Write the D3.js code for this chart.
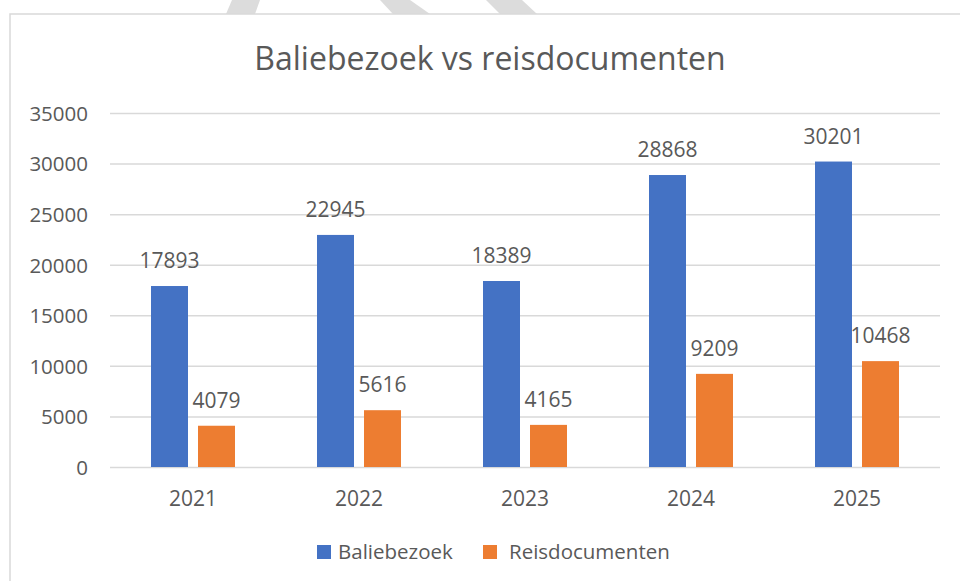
<!DOCTYPE html>
<html>
<head>
<meta charset="utf-8">
<script src="https://cdn.jsdelivr.net/npm/d3@7"></script>
<style>
  html, body { margin: 0; padding: 0; background: #fff; }
  svg { display: block; }
  text { font-family: "Open Sans", "Liberation Sans", sans-serif; fill: #595959; }
</style>
</head>
<body>
<svg id="chart" width="960" height="581"></svg>
<script>
const years = ["2021", "2022", "2023", "2024", "2025"];
const seriesNames = ["Baliebezoek", "Reisdocumenten"];
const baliebezoek = [17893, 22945, 18389, 28868, 30201];
const reisdocumenten = [4079, 5616, 4165, 9209, 10468];
const yTicks = [0, 5000, 10000, 15000, 20000, 25000, 30000, 35000];
const colors = ["#4472C4", "#ED7D31"];
const title = "Baliebezoek vs reisdocumenten";

const seriesValues = [baliebezoek, reisdocumenten];
const svg = d3.select("#chart");

// background watermark stripes (above the chart frame)
const stripes = [
  [[232, 0], [260, 0], [255, 14], [226, 14]],
  [[380, 0], [410, 0], [430, 14], [393, 14]],
  [[486, 0], [522, 0], [537, 14], [500, 14]]
];
svg.selectAll("polygon.wm").data(stripes).join("polygon")
  .attr("class", "wm")
  .attr("points", d => d.map(p => p.join(",")).join(" "))
  .attr("fill", "#dcdcdc");

// chart frame
svg.append("rect")
  .attr("x", 10).attr("y", 14)
  .attr("width", 980).attr("height", 600)
  .attr("fill", "#fff")
  .attr("stroke", "#d9d9d9").attr("stroke-width", 1.5);

// title
svg.append("text")
  .attr("x", 490).attr("y", 70)
  .attr("text-anchor", "middle")
  .style("font-size", "32px")
  .text(title);

const x0 = d3.scaleBand().domain(years).range([110, 940]).padding(0);
const x1 = d3.scaleBand().domain(seriesNames)
  .range([x0.bandwidth() / 2 - 42, x0.bandwidth() / 2 + 42])
  .paddingInner(0.2128).paddingOuter(0);
const y = d3.scaleLinear().domain([0, 35000]).range([467, 113]);

// gridlines
const yAxis = d3.axisLeft(y).tickValues(yTicks).tickSize(-(940 - 110)).tickFormat(d3.format("d"));
const gy = svg.append("g").attr("transform", "translate(110,0)").call(yAxis);
gy.select(".domain").remove();
gy.selectAll(".tick line").attr("stroke", "#d9d9d9").attr("stroke-width", 1.5);
gy.selectAll(".tick text")
  .attr("x", -22).attr("dy", "0.36em")
  .style("font-size", "20.5px").attr("fill", "#595959")
  .style("font-family", "'Open Sans', sans-serif");

// x axis labels
const xAxis = d3.axisBottom(x0).tickSize(0);
const gx = svg.append("g").attr("transform", "translate(0,467)").call(xAxis);
gx.select(".domain").remove();
gx.selectAll(".tick text")
  .attr("y", 0).attr("dy", "39px")
  .style("font-size", "21px").attr("fill", "#595959")
  .style("font-family", "'Open Sans', sans-serif");

// bars
const groups = svg.append("g").selectAll("g").data(years).join("g")
  .attr("transform", d => `translate(${x0(d)},0)`);

groups.selectAll("rect").data((d, i) => seriesNames.map((s, j) => ({ s, v: seriesValues[j][i], j })))
  .join("rect")
  .attr("x", d => x1(d.s))
  .attr("width", x1.bandwidth())
  .attr("y", d => y(d.v))
  .attr("height", d => y(0) - y(d.v))
  .attr("fill", d => colors[d.j]);

groups.selectAll("text.lbl").data((d, i) => seriesNames.map((s, j) => ({ s, v: seriesValues[j][i], j })))
  .join("text")
  .attr("class", "lbl")
  .attr("x", d => x1(d.s) + x1.bandwidth() / 2)
  .attr("y", d => y(d.v) - 18)
  .attr("text-anchor", "middle")
  .style("font-size", "21px")
  .text(d => d.v);

// legend
const legendItems = [
  { name: seriesNames[0], color: colors[0], x: 317 },
  { name: seriesNames[1], color: colors[1], x: 483 }
];
const lg = svg.append("g").selectAll("g").data(legendItems).join("g")
  .attr("transform", d => `translate(${d.x},545)`);
lg.append("rect").attr("width", 14).attr("height", 14).attr("fill", d => d.color);
lg.append("text").attr("x", d => d.name === seriesNames[0] ? 21 : 26).attr("y", 7).attr("dy", "0.36em")
  .style("font-size", "20.5px").text(d => d.name);
</script>
</body>
</html>
